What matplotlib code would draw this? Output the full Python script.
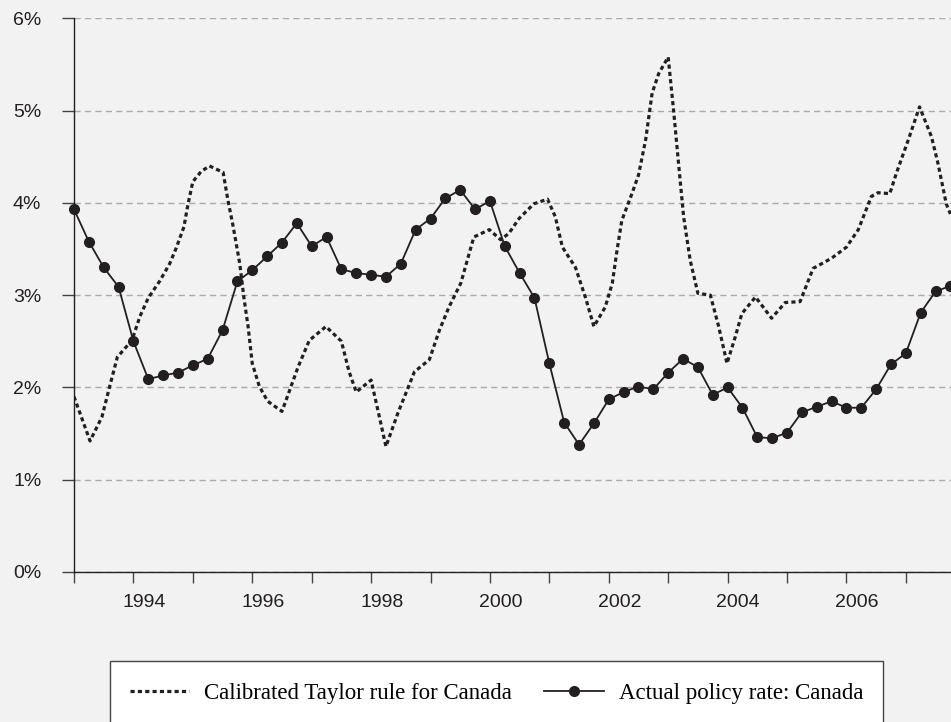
import matplotlib
matplotlib.use('Agg')
import matplotlib.pyplot as plt
from matplotlib.patches import Rectangle


# Actual policy rate, quarterly from 1993 Q1 (%)
policy_t = [1993 + 0.25 * i for i in range(60)]
policy_v = [3.93, 3.58, 3.30, 3.09, 2.50, 2.09, 2.13, 2.16, 2.24, 2.31,
            2.62, 3.15, 3.27, 3.42, 3.57, 3.78, 3.53, 3.63, 3.28, 3.24,
            3.22, 3.20, 3.34, 3.71, 3.83, 4.05, 4.14, 3.93, 4.02, 3.53,
            3.24, 2.97, 2.26, 1.62, 1.38, 1.61, 1.87, 1.95, 2.01, 1.98,
            2.16, 2.31, 2.22, 1.92, 2.00, 1.78, 1.46, 1.45, 1.51, 1.73,
            1.79, 1.85, 1.78, 1.78, 1.98, 2.25, 2.37, 2.81, 3.04, 3.10]

# Calibrated Taylor rule (%)
taylor_t = [1993.00, 1993.27, 1993.47, 1993.60, 1993.73, 1993.88, 1993.97, 1994.11,
            1994.25, 1994.44, 1994.61, 1994.72, 1994.85, 1994.92, 1995.00, 1995.14,
            1995.28, 1995.51, 1995.59, 1995.68, 1995.79, 1995.86, 1995.93, 1996.00,
            1996.12, 1996.26, 1996.50, 1996.63, 1996.77, 1996.96, 1997.24, 1997.50,
            1997.63, 1997.75, 1998.00, 1998.14, 1998.25, 1998.45, 1998.73, 1998.98,
            1999.15, 1999.31, 1999.51, 1999.65, 1999.73, 1999.99, 2000.18, 2000.32,
            2000.49, 2000.74, 2000.97, 2001.10, 2001.22, 2001.44, 2001.61, 2001.75,
            2001.94, 2002.06, 2002.14, 2002.22, 2002.39, 2002.50, 2002.62, 2002.73,
            2002.84, 2003.00, 2003.09, 2003.18, 2003.26, 2003.37, 2003.50, 2003.71,
            2003.85, 2003.99, 2004.13, 2004.24, 2004.47, 2004.74, 2004.97, 2005.22,
            2005.44, 2005.75, 2006.00, 2006.20, 2006.42, 2006.53, 2006.73, 2006.84,
            2007.04, 2007.23, 2007.43, 2007.54, 2007.68, 2007.75]
taylor_v = [1.90, 1.42, 1.68, 2.01, 2.33, 2.44, 2.50, 2.77,
            2.97, 3.15, 3.34, 3.51, 3.74, 3.99, 4.23, 4.34,
            4.40, 4.33, 4.03, 3.74, 3.34, 2.97, 2.66, 2.26,
            2.01, 1.85, 1.74, 1.97, 2.22, 2.51, 2.66, 2.50,
            2.17, 1.95, 2.08, 1.68, 1.36, 1.72, 2.17, 2.30,
            2.62, 2.87, 3.13, 3.45, 3.63, 3.71, 3.60, 3.67,
            3.83, 3.99, 4.04, 3.85, 3.52, 3.30, 2.97, 2.66,
            2.87, 3.13, 3.49, 3.81, 4.10, 4.30, 4.68, 5.19,
            5.40, 5.58, 5.01, 4.39, 3.85, 3.38, 3.02, 3.00,
            2.66, 2.26, 2.55, 2.80, 2.98, 2.75, 2.92, 2.93,
            3.29, 3.40, 3.52, 3.71, 4.07, 4.11, 4.10, 4.32,
            4.68, 5.04, 4.72, 4.43, 3.99, 3.88]

years = list(range(1993, 2008))
label_years = [1994, 1996, 1998, 2000, 2002, 2004, 2006]
y_ticks = [0, 1, 2, 3, 4, 5, 6]
y_labels = ['0%', '1%', '2%', '3%', '4%', '5%', '6%']

bg = '#f2f2f2'
ink = '#231f20'

fig = plt.figure(figsize=(9.51, 7.22), dpi=100, facecolor=bg)
ax = fig.add_axes([74 / 951, 150 / 722, 877 / 951, 553.7 / 722])
ax.set_facecolor(bg)

ax.plot(taylor_t, taylor_v, color=ink, lw=2.3, linestyle=(0, (1.3, 1.0)),
        dash_capstyle='butt', label='Calibrated Taylor rule for Canada', zorder=3)
ax.plot(policy_t, policy_v, color=ink, lw=1.3, marker='o', markersize=7,
        label='Actual policy rate: Canada', zorder=4, clip_on=False)

ax.set_xlim(1993, 2007.76)
ax.set_ylim(0, 6)

# y axis
ax.set_yticks(y_ticks)
ax.set_yticklabels(y_labels)
ax.tick_params(axis='y', length=8.5, width=1, color='#444444', pad=15,
               labelsize=14, labelcolor=ink)
ax.yaxis.grid(True, linestyle=(0, (4.5, 3)), color='#aaaaaa', lw=1)
ax.set_axisbelow(True)

# x axis: yearly ticks, labels every second year
ax.set_xticks(years)
ax.set_xticklabels([])
ax.tick_params(axis='x', which='major', length=8, width=1, color='#444444')
ax.set_xticks([y + 0.18 for y in label_years], minor=True)
ax.set_xticklabels([str(y) for y in label_years], minor=True)
ax.tick_params(axis='x', which='minor', length=0, pad=16, labelsize=14,
               labelcolor=ink)

for side in ['top', 'right']:
    ax.spines[side].set_visible(False)
for side in ['left', 'bottom']:
    ax.spines[side].set_color(ink)
    ax.spines[side].set_linewidth(1)

for lab in ax.get_yticklabels() + ax.get_xticklabels(minor=True):
    lab.set_fontfamily('Liberation Sans')

# legend box
fig.patches.append(Rectangle((110 / 951, -0.05), 773 / 951, 0.05 + 61 / 722,
                             transform=fig.transFigure, facecolor='white',
                             edgecolor='#444444', lw=1, zorder=0))
fig.legend(loc='center', bbox_to_anchor=(496.5 / 951, 29 / 722), ncol=2,
           frameon=False, borderpad=0, handlelength=2.6, handletextpad=0.65,
           columnspacing=1.4, prop={'family': 'Liberation Serif', 'size': 16.5})

fig.savefig('out.png', dpi=100, facecolor=bg)
